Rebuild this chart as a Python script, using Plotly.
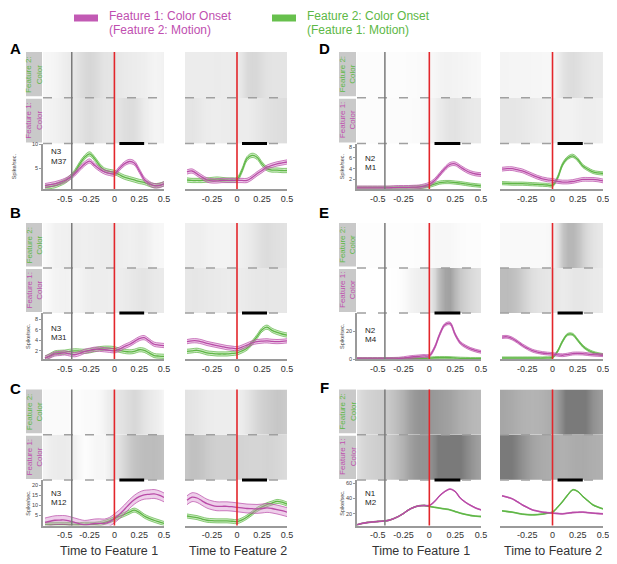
import plotly.graph_objects as go

W, H = 617, 564
PAGE_PAD = 8  # the page body offsets the plot by 8px

# time grids (s)
T_LEFT = [-0.7, -0.65, -0.6, -0.55, -0.5, -0.45, -0.4, -0.35, -0.3, -0.25, -0.2, -0.15, -0.1,
          -0.05, 0.0, 0.05, 0.1, 0.15, 0.2, 0.25, 0.3, 0.35, 0.4, 0.45, 0.5]
T_RIGHT = [-0.5, -0.45, -0.4, -0.35, -0.3, -0.25, -0.2, -0.15, -0.1, -0.05, 0.0,
           0.05, 0.1, 0.15, 0.2, 0.25, 0.3, 0.35, 0.4, 0.45, 0.5]

# firing rates (spikes/sec), magenta = feature 1 color, green = feature 2 color
A_L_MAG = [1.3, 1.5, 1.7, 2.0, 2.4, 3.0, 3.8, 4.9, 5.9, 6.5, 5.6, 4.8, 4.2, 3.9, 3.8, 4.9, 5.9, 6.4, 6.1, 4.5, 2.7, 1.8, 1.3, 1.3, 1.7]
A_L_GRN = [1.0, 1.1, 1.3, 1.7, 2.2, 3.0, 4.2, 5.9, 7.3, 8.0, 7.0, 5.6, 4.6, 4.3, 4.1, 3.6, 3.1, 2.8, 2.5, 2.2, 2.0, 1.6, 1.3, 1.4, 1.7]
A_R_MAG = [4.2, 4.4, 3.8, 3.1, 2.5, 2.3, 2.3, 2.4, 2.4, 2.4, 2.4, 2.4, 2.4, 3.0, 3.8, 4.5, 5.2, 5.6, 5.9, 6.1, 6.3]
A_R_GRN = [2.5, 2.4, 2.4, 2.4, 2.5, 2.6, 2.7, 2.6, 2.5, 2.5, 2.6, 4.5, 7.0, 7.7, 7.3, 5.9, 4.9, 4.6, 4.6, 4.5, 4.5]

B_L_MAG = [0.6, 1.0, 1.4, 1.5, 1.6, 1.4, 1.25, 1.5, 1.9, 2.1, 2.3, 2.3, 2.2, 2.1, 2.0, 2.3, 2.8, 3.2, 3.75, 4.3, 4.5, 3.9, 3.25, 3.1, 3.0]
B_L_GRN = [0.6, 1.1, 1.6, 1.7, 1.75, 1.9, 2.0, 1.95, 1.9, 2.0, 2.2, 2.4, 2.5, 2.5, 2.4, 2.1, 1.9, 1.8, 1.9, 2.2, 2.1, 1.6, 1.1, 1.0, 0.95]
B_R_MAG = [3.75, 3.9, 3.9, 3.7, 3.4, 3.2, 3.0, 2.8, 2.6, 2.5, 2.4, 2.7, 3.1, 3.5, 3.75, 3.85, 3.9, 3.8, 3.75, 3.8, 3.9]
B_R_GRN = [1.9, 2.0, 2.1, 1.9, 1.6, 1.5, 1.4, 1.4, 1.4, 1.5, 1.6, 2.0, 2.5, 3.5, 4.7, 6.0, 6.5, 5.9, 5.5, 5.2, 5.0]

C_L_MAG = [1.5, 2.1, 2.6, 2.7, 2.7, 2.2, 1.5, 0.8, 0.3, 0.6, 1.0, 1.1, 1.0, 1.8, 3.5, 5.5, 7.9, 10.5, 12.7, 14.3, 15.2, 15.4, 15.6, 15.0, 13.9]
C_L_GRN = [0.6, 0.6, 0.6, 0.6, 0.6, 0.5, 0.3, 0.4, 0.6, 0.6, 0.6, 0.9, 1.5, 2.3, 3.4, 4.5, 5.5, 6.6, 7.6, 6.5, 4.7, 3.5, 2.6, 1.8, 1.0]
C_R_MAG = [12.5, 14.0, 13.6, 12.2, 10.8, 10.0, 9.5, 9.5, 9.5, 9.3, 9.0, 8.7, 8.4, 8.3, 8.2, 8.4, 8.7, 8.4, 7.9, 7.3, 6.6]
C_R_GRN = [4.7, 4.3, 3.9, 3.2, 2.6, 2.4, 2.3, 2.3, 2.3, 2.1, 1.9, 2.8, 4.2, 6.0, 7.9, 9.2, 10.3, 11.1, 11.9, 11.5, 10.6]

D_L_MAG = [0.4, 0.4, 0.4, 0.4, 0.4, 0.4, 0.4, 0.45, 0.5, 0.5, 0.5, 0.55, 0.6, 0.8, 1.1, 1.8, 2.9, 4.0, 4.8, 4.9, 4.3, 3.7, 3.25, 3.0, 2.9]
D_L_GRN = [0.4, 0.4, 0.4, 0.4, 0.4, 0.4, 0.4, 0.4, 0.4, 0.4, 0.45, 0.5, 0.55, 0.65, 0.8, 1.1, 1.4, 1.5, 1.5, 1.4, 1.3, 1.15, 1.0, 0.9, 0.8]
D_R_MAG = [3.9, 4.0, 4.0, 3.8, 3.6, 3.2, 2.8, 2.4, 2.1, 1.9, 1.8, 1.6, 1.5, 1.5, 1.6, 1.8, 2.0, 2.0, 2.0, 1.9, 1.7]
D_R_GRN = [1.3, 1.25, 1.2, 1.2, 1.2, 1.15, 1.1, 1.05, 1.0, 0.95, 0.9, 2.3, 4.8, 6.0, 6.4, 5.7, 4.5, 3.9, 3.4, 3.2, 3.1]

E_L_MAG = [0, 0, 0, 0, 0, 0, 0, 0.1, 0.2, 0.6, 1.2, 1.6, 1.9, 2.2, 2.4, 8.0, 17.6, 24.5, 25.5, 17.6, 11.6, 9.0, 7.2, 6.0, 5.1]
E_L_GRN = [0.2, 0.2, 0.2, 0.2, 0.2, 0.2, 0.2, 0.2, 0.2, 0.2, 0.2, 0.3, 0.3, 0.4, 0.6, 0.9, 1.0, 1.0, 0.9, 0.7, 0.5, 0.4, 0.3, 0.3, 0.3]
E_R_MAG = [15.7, 15.9, 14.7, 12.5, 9.9, 7.8, 6.0, 5.0, 4.3, 3.9, 3.6, 3.0, 2.7, 3.2, 3.9, 4.0, 3.9, 3.5, 3.1, 2.9, 2.7]
E_R_GRN = [0.7, 0.7, 0.7, 0.7, 0.7, 0.7, 0.7, 0.7, 0.7, 0.8, 1.2, 5.5, 12.8, 17.6, 17.6, 13.5, 9.2, 6.5, 4.8, 3.8, 3.1]

F_L_MAG = [5.7, 7.5, 8.7, 9.4, 10.0, 10.6, 11.3, 13.5, 16.5, 20.5, 25.2, 28.5, 30.4, 30.8, 30.9, 36.0, 43.5, 49.0, 52.2, 49.0, 40.4, 35.0, 30.9, 27.5, 25.2]
F_L_GRN = [5.7, 7.5, 8.7, 9.4, 10.0, 10.6, 11.3, 13.5, 16.5, 20.5, 25.2, 28.5, 30.4, 30.8, 29.6, 28.5, 27.4, 26.3, 25.2, 23.0, 20.9, 19.3, 17.8, 17.0, 16.5]
F_R_MAG = [43.5, 41.8, 39.6, 35.8, 31.7, 28.3, 25.2, 23.6, 22.2, 21.5, 20.9, 20.4, 20.0, 20.8, 21.7, 22.0, 22.2, 21.5, 20.9, 20.4, 20.0]
F_R_GRN = [23.9, 23.0, 22.2, 20.8, 19.6, 19.0, 18.7, 19.0, 19.6, 20.8, 22.2, 28.5, 36.0, 44.5, 51.3, 49.1, 42.6, 37.0, 31.7, 28.8, 26.5]

SEM_MAG = [0.45, 0.4, 2.2, 0.35, 1.0, 0.5]
SEM_GRN = [0.45, 0.4, 1.0, 0.3, 0.8, 0.5]

LETTERS = ["A", "B", "C", "D", "E", "F"]
NEURONS = [["N3", "M37"], ["N3", "M31"], ["N3", "M12"], ["N2", "M1"], ["N2", "M4"], ["N1", "M2"]]
Y_RANGES = [[0.6, 10.2], [0.44, 9.2], [0, 22.5], [0.2, 8.7], [0, 33], [4.8, 64]]
Y_TICKS = [[5, 10], [2, 4, 6, 8], [5, 10, 15, 20], [2, 4, 6, 8], [0, 20], [20, 40, 60]]
X_TICKS_LEFT = [-0.5, -0.25, 0, 0.25, 0.5]
X_TICKS_RIGHT = [-0.25, 0, 0.25, 0.5]
ONSET_OTHER = -0.43   # grey line: other feature onset
WINDOW = [0.05, 0.3]  # analysis window bar

CURVES = [
    [(A_L_MAG, A_L_GRN), (A_R_MAG, A_R_GRN)],
    [(B_L_MAG, B_L_GRN), (B_R_MAG, B_R_GRN)],
    [(C_L_MAG, C_L_GRN), (C_R_MAG, C_R_GRN)],
    [(D_L_MAG, D_L_GRN), (D_R_MAG, D_R_GRN)],
    [(E_L_MAG, E_L_GRN), (E_R_MAG, E_R_GRN)],
    [(F_L_MAG, F_L_GRN), (F_R_MAG, F_R_GRN)],
]

# pixel layout (reference picture coordinates)
ROW_PX = [(52, 143.5, 189), (223, 313, 359), (389.5, 480, 525.5)]
COL_PX = [[(43, 164), (185, 287)], [(357, 481), (500, 603)]]
X_RANGES = [[[-0.72, 0.5], [-0.52, 0.5]], [[-0.7, 0.5], [-0.52, 0.5]]]
BOX_PX = [(26, 42), (339, 356)]
LABEL_Y = [48, 213, 388, 48, 213, 387]
NEURON_DY = [8, 15, 13, 14.5, 17, 13]

MAG = "#b94ba7"
MAG_FILL = "rgba(210,130,200,0.38)"
MAG_TEXT = "#c04fb0"
GRN = "#5fb646"
GRN_FILL = "rgba(130,205,105,0.38)"
GRN_TEXT = "#5db846"
RED = "#e3262b"
AXIS_GREY = "#9a9a9a"
FONT = "Liberation Sans, Arial, sans-serif"
RASTER_SCALE = [[0, "#ffffff"], [0.05, "#eeeeee"], [0.3, "#c6c6c6"], [1, "#7a7a7a"]]

FW, FH = W - PAGE_PAD, H - PAGE_PAD


def fx(px):
    return (px - PAGE_PAD) / FW


def fy(py):
    return 1 - (py - PAGE_PAD) / FH


def names(n):
    s = "" if n == 1 else str(n)
    return "xaxis" + s, "yaxis" + s, "x" + s, "y" + s


def label(px, py, text, size, color, xanchor="center", angle=0):
    return dict(x=fx(px), y=fy(py), xref="paper", yref="paper", xanchor=xanchor, yanchor="middle",
                showarrow=False, text=text, textangle=angle, font=dict(size=size, color=color, family=FONT))


fig = go.Figure()
layout = {}
shapes = []
annotations = []

n = 0
for i, letter in enumerate(LETTERS):
    group, row = i // 3, i % 3
    top, mid, bot = ROW_PX[row]
    div = (top + mid) / 2
    for side in (0, 1):
        x0, x1 = COL_PX[group][side]
        xr = X_RANGES[group][side]
        t = T_LEFT if side == 0 else T_RIGHT
        mag, grn = CURVES[i][side]

        # raster (spike density of each condition)
        n += 1
        xa, ya, xref, yref = names(n)
        layout[xa] = dict(domain=[fx(x0), fx(x1)], range=xr, visible=False, anchor=yref)
        layout[ya] = dict(domain=[fy(mid), fy(top)], range=[0, 2], visible=False, anchor=xref)
        for rate, ys in ((mag, [0.25, 0.75]), (grn, [1.25, 1.75])):
            fig.add_trace(go.Heatmap(x=t, y=ys, z=[rate, rate], zmin=0, zmax=40,
                                     colorscale=RASTER_SCALE, zsmooth="best", showscale=False,
                                     hoverinfo="skip", xaxis=xref, yaxis=yref))

        # PSTH
        n += 1
        xa, ya, xref, yref = names(n)
        ticks = X_TICKS_LEFT if side == 0 else X_TICKS_RIGHT
        layout[xa] = dict(domain=[fx(x0), fx(x1)], range=xr, anchor=yref,
                          showline=True, linecolor=AXIS_GREY, linewidth=2,
                          tickvals=ticks, ticktext=[f"{v:g}" for v in ticks], ticks="",
                          tickfont=dict(size=9, color="#333", family=FONT),
                          showgrid=False, zeroline=False)
        layout[ya] = dict(domain=[fy(bot), fy(mid)], range=Y_RANGES[i], anchor=xref,
                          showline=(side == 0), linecolor=AXIS_GREY, linewidth=1.5,
                          tickvals=Y_TICKS[i], showticklabels=(side == 0),
                          ticks="outside" if side == 0 else "", ticklen=2, tickcolor=AXIS_GREY,
                          tickfont=dict(size=5.5, color="#444", family=FONT),
                          showgrid=False, zeroline=False)

        for vals, sem, color, fill in ((grn, SEM_GRN[i], GRN, GRN_FILL), (mag, SEM_MAG[i], MAG, MAG_FILL)):
            upper = [v + sem for v in vals]
            lower = [v - sem for v in vals]
            fig.add_trace(go.Scatter(x=t, y=upper, mode="lines", line=dict(color=color, width=0.7, shape="spline"),
                                     hoverinfo="skip", xaxis=xref, yaxis=yref))
            fig.add_trace(go.Scatter(x=t, y=lower, mode="lines", fill="tonexty", fillcolor=fill,
                                     line=dict(color=color, width=0.7, shape="spline"),
                                     hoverinfo="skip", xaxis=xref, yaxis=yref))
            fig.add_trace(go.Scatter(x=t, y=vals, mode="lines", line=dict(color=color, width=1.3, shape="spline"),
                                     hoverinfo="skip", xaxis=xref, yaxis=yref))

        # dashed condition separators
        for yy in (div, mid):
            shapes.append(dict(type="line", xref="paper", yref="paper", x0=fx(x0), x1=fx(x1), y0=fy(yy), y1=fy(yy),
                               line=dict(color="#a0a0a0", width=1.5, dash="9px,12px")))
        # event lines
        shapes.append(dict(type="line", xref=xref, yref="paper", x0=0, x1=0, y0=fy(bot), y1=fy(top),
                           line=dict(color=RED, width=1.6)))
        if side == 0:
            shapes.append(dict(type="line", xref=xref, yref="paper", x0=ONSET_OTHER, x1=ONSET_OTHER,
                               y0=fy(bot), y1=fy(top), line=dict(color="#7a7a7a", width=1.5)))
        shapes.append(dict(type="line", xref=xref, yref="paper", x0=WINDOW[0], x1=WINDOW[1], y0=fy(mid), y1=fy(mid),
                           line=dict(color="black", width=3)))

        if side == 0:
            bx0, bx1 = BOX_PX[group]
            shapes.append(dict(type="rect", xref="paper", yref="paper", x0=fx(bx0), x1=fx(bx1),
                               y0=fy(div - 1.5), y1=fy(top), fillcolor="#c9c9c9", line_width=0, layer="below"))
            shapes.append(dict(type="rect", xref="paper", yref="paper", x0=fx(bx0), x1=fx(bx1),
                               y0=fy(mid - 1), y1=fy(div + 1), fillcolor="#c9c9c9", line_width=0, layer="below"))
            bxc = (bx0 + bx1) / 2
            annotations.append(label(bxc, (top + div) / 2, "Feature 2:<br>Color", 8, GRN_TEXT, angle=-90))
            annotations.append(label(bxc, (div + mid) / 2, "Feature 1:<br>Color", 8, MAG_TEXT, angle=-90))
            annotations.append(label(x0 - 15 if i else x0 - 29, (mid + bot) / 2, "Spike/sec.", 5.5, "#444", angle=-90))
            for k, word in enumerate(NEURONS[i]):
                annotations.append(label(x0 + 6, mid + NEURON_DY[i] + 9.5 * k, word, 8, "#222", xanchor="left"))

    annotations.append(label(15.5 if group == 0 else 324, LABEL_Y[i], f"<b>{letter}</b>", 15, "black"))

# bottom axis titles
for xc, txt in ((109, "Time to Feature 1"), (238, "Time to Feature 2"),
                (421, "Time to Feature 1"), (553, "Time to Feature 2")):
    annotations.append(label(xc, 551, txt, 12.5, "#333"))

# legend
shapes.append(dict(type="rect", xref="paper", yref="paper", x0=fx(74), x1=fx(98), y0=fy(21.5), y1=fy(14.5),
                   fillcolor="#c25ab4", line_width=0))
shapes.append(dict(type="rect", xref="paper", yref="paper", x0=fx(272), x1=fx(296), y0=fy(21.5), y1=fy(14.5),
                   fillcolor="#67c04d", line_width=0))
for xl, color, l1, l2 in ((107, MAG_TEXT, "Feature 1: Color Onset", "(Feature 2: Motion)"),
                          (305, GRN_TEXT, "Feature 2: Color Onset", "(Feature 1: Motion)")):
    annotations.append(label(xl, 16, l1, 12, color, xanchor="left"))
    annotations.append(label(xl, 30, l2, 12, color, xanchor="left"))

fig.update_layout(width=FW, height=FH, margin=dict(l=0, r=0, t=0, b=0, pad=0, autoexpand=False), showlegend=False,
                  paper_bgcolor="white", plot_bgcolor="white", shapes=shapes, annotations=annotations,
                  **layout)

fig.write_html("out.html")
